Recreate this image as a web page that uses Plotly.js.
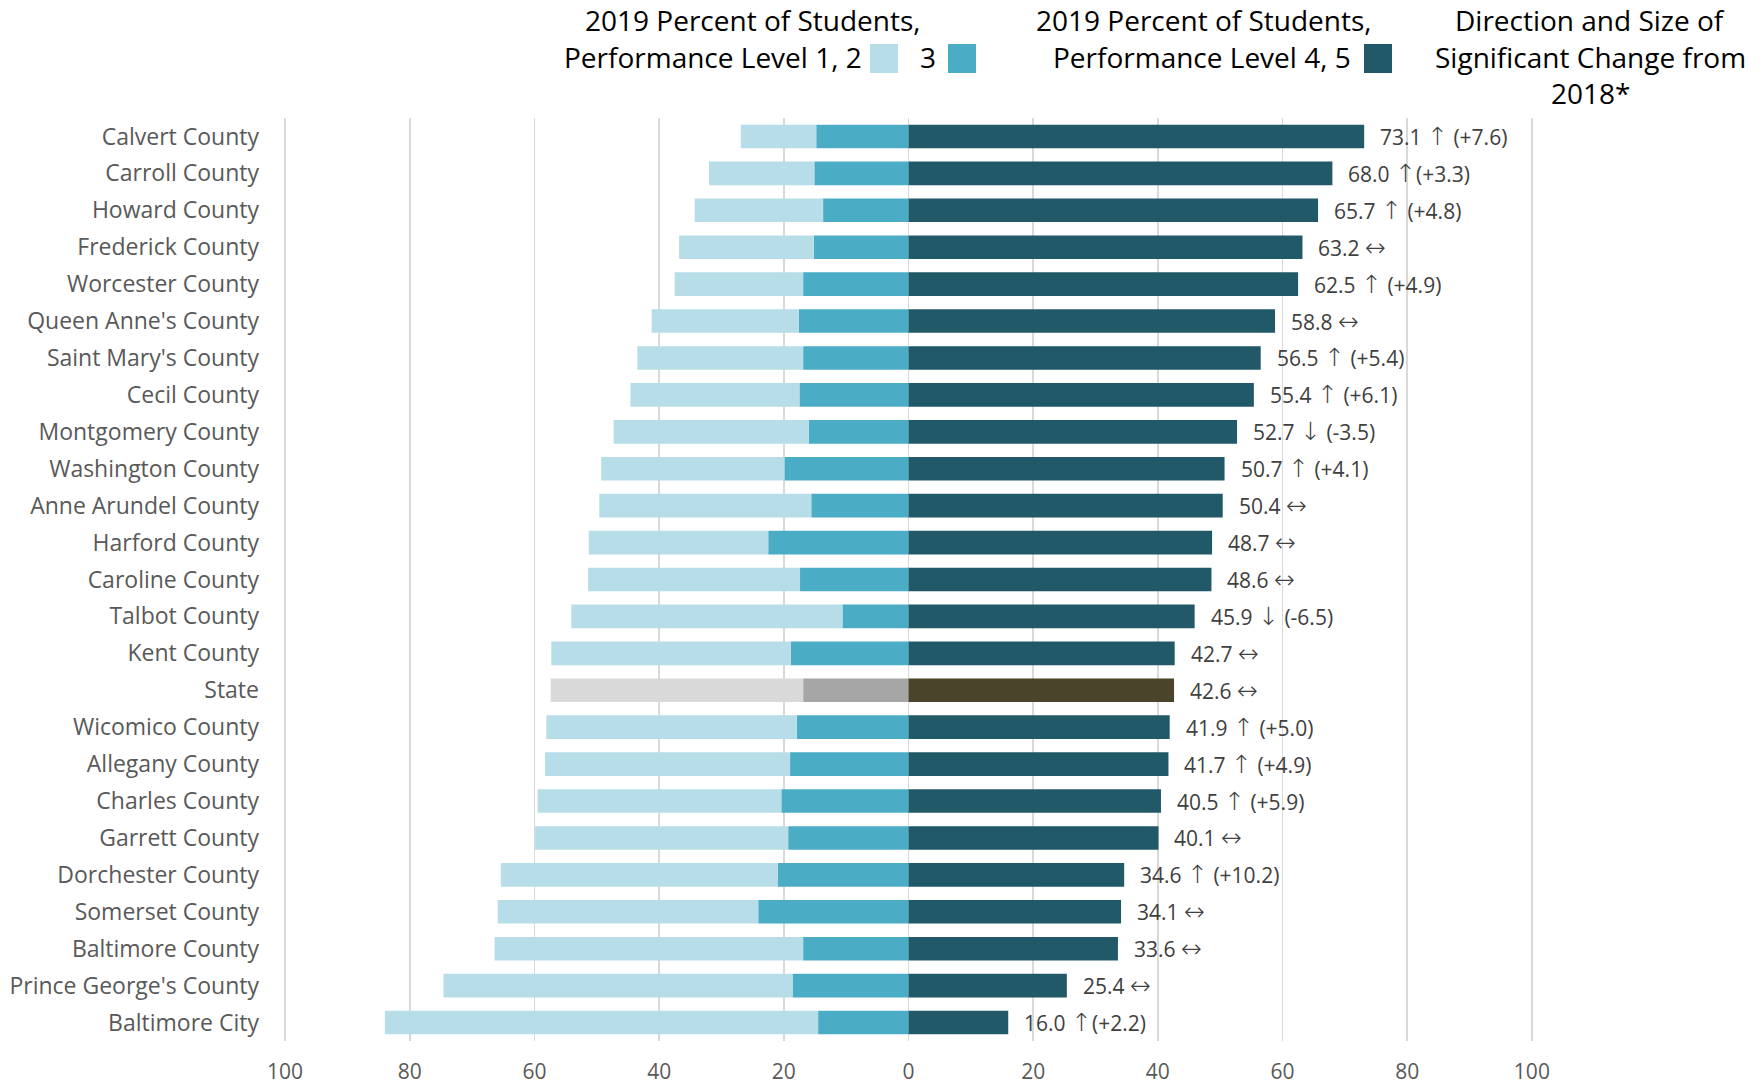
<!DOCTYPE html>
<html>
<head>
<meta charset="utf-8">
<script src="https://cdn.plot.ly/plotly-3.0.1.min.js"></script>
<style>
  html, body { margin: 0; padding: 0; background: #ffffff; }
  #chart { width: 1764px; height: 1085px; }
</style>
</head>
<body>
<div id="chart"></div>
<script>
// Jurisdictions, top to bottom
const categories = [
  "Calvert County", "Carroll County", "Howard County", "Frederick County",
  "Worcester County", "Queen Anne's County", "Saint Mary's County", "Cecil County",
  "Montgomery County", "Washington County", "Anne Arundel County", "Harford County",
  "Caroline County", "Talbot County", "Kent County", "State", "Wicomico County",
  "Allegany County", "Charles County", "Garrett County", "Dorchester County",
  "Somerset County", "Baltimore County", "Prince George's County", "Baltimore City"
];

// 2019 percent of students at performance levels 4 and 5
const level45 = [73.1, 68.0, 65.7, 63.2, 62.5, 58.8, 56.5, 55.4, 52.7, 50.7, 50.4, 48.7,
                 48.6, 45.9, 42.7, 42.6, 41.9, 41.7, 40.5, 40.1, 34.6, 34.1, 33.6, 25.4, 16.0];

// 2019 percent of students at performance level 3
const level3 = [14.8, 15.1, 13.7, 15.2, 16.9, 17.6, 16.9, 17.5, 16.0, 19.9, 15.6, 22.5,
                17.4, 10.6, 18.9, 16.9, 17.9, 19.0, 20.4, 19.3, 21.0, 24.1, 16.9, 18.6, 14.5];

// 2019 percent of students at performance levels 1 and 2
const level12 = [12.1, 16.9, 20.6, 21.6, 20.6, 23.6, 26.6, 27.1, 31.3, 29.4, 34.0, 28.8,
                 34.0, 43.5, 38.4, 40.5, 40.2, 39.3, 39.1, 40.6, 44.4, 41.8, 49.5, 56.0, 69.5];

// Direction and size of significant change from 2018
const changeText = ["↑ (+7.6)", "↑(+3.3)", "↑ (+4.8)", "↔", "↑ (+4.9)", "↔", "↑ (+5.4)",
                    "↑ (+6.1)", "↓ (-3.5)", "↑ (+4.1)", "↔", "↔", "↔", "↓ (-6.5)", "↔",
                    "↔", "↑ (+5.0)", "↑ (+4.9)", "↑ (+5.9)", "↔", "↑ (+10.2)", "↔", "↔",
                    "↔", "↑(+2.2)"];

// Axis ticks (left half is drawn as negative values, labelled as positive)
const tickValues = [-100, -80, -60, -40, -20, 0, 20, 40, 60, 80, 100];
const tickLabels = ["100", "80", "60", "40", "20", "0", "20", "40", "60", "80", "100"];

const COLORS = {
  lvl12: "#b7dde8", lvl3: "#4bacc6", lvl45: "#215968",
  state12: "#d9d9d9", state3: "#a6a6a6", state45: "#4a452a"
};
const FONT = "'Open Sans', 'Noto Sans', 'DejaVu Sans', sans-serif";

const isState = categories.map(c => c === "State");
const colorFor = (base, st) => isState.map(s => (s ? COLORS[st] : COLORS[base]));

const W = 1764, H = 1085;
const M = { l: 282, r: 229, t: 118, b: 44 };
const X_RANGE = [-100.5, 100.5];
const plotW = W - M.l - M.r, plotH = H - M.t - M.b;
// pixel position -> paper coordinate, for header pieces
const px = x => (x - M.l) / plotW;
const py = y => (H - M.b - y) / plotH;

const traces = [
  {
    type: "bar", orientation: "h", name: "3",
    y: categories, x: level3.map(v => -v),
    marker: { color: colorFor("lvl3", "state3") },
    hoverinfo: "skip"
  },
  {
    type: "bar", orientation: "h", name: "1, 2",
    y: categories, x: level12.map(v => -v),
    marker: { color: colorFor("lvl12", "state12") },
    hoverinfo: "skip"
  },
  {
    type: "bar", orientation: "h", name: "4, 5",
    y: categories, x: level45,
    marker: { color: colorFor("lvl45", "state45") },
    hoverinfo: "skip"
  }
];

// Arrow glyphs: thin DejaVu arrows, a little larger than the numbers
const arrowSpan = s => s.replace(/[↑↓↔]/g,
  g => "<span style=\"font-family:'DejaVu Sans';font-weight:200;font-size:25px\">" + g + "</span>");

const annotations = categories.map((c, i) => ({
  x: level45[i], y: c, xref: "x", yref: "y",
  xanchor: "left", yanchor: "middle", xshift: 14,
  text: level45[i].toFixed(1) + " " + arrowSpan(changeText[i]),
  showarrow: false,
  font: { family: FONT, size: 21, color: "#404040" }
}));

const headFont = { family: FONT, size: 28, color: "#000000" };
const head = (text, x, y, anchor) => ({
  text, x: px(x), y: py(y), xref: "paper", yref: "paper",
  xanchor: anchor, yanchor: "middle", showarrow: false, font: headFont
});
annotations.push(
  head("2019 Percent of Students,", 753, 20, "center"),
  head("Performance Level 1, 2", 864, 57, "right"),
  head("3", 938, 57, "right"),
  head("2019 Percent of Students,", 1204, 20, "center"),
  head("Performance Level 4, 5", 1353, 57, "right"),
  head("Direction and Size of", 1590, 20, "center"),
  head("Significant Change from", 1590, 57, "center"),
  head("2018*", 1590, 93, "center")
);

const swatch = (x0, x1, color) => ({
  type: "rect", xref: "paper", yref: "paper",
  x0: px(x0), x1: px(x1), y0: py(73), y1: py(44),
  fillcolor: color, line: { width: 0 }
});
const shapes = [
  swatch(870, 898, COLORS.lvl12),
  swatch(948, 976, COLORS.lvl3),
  swatch(1364, 1392, COLORS.lvl45)
];

const layout = {
  width: W, height: H,
  margin: M,
  paper_bgcolor: "#ffffff", plot_bgcolor: "#ffffff",
  barmode: "relative",
  bargap: 0.36,
  showlegend: false,
  font: { family: FONT, color: "#595959" },
  xaxis: {
    range: X_RANGE,
    tickvals: tickValues, ticktext: tickLabels,
    showgrid: true, gridcolor: "#d9d9d9", gridwidth: 1.5,
    zeroline: true, zerolinecolor: "#d9d9d9", zerolinewidth: 1.5,
    showline: false, ticks: "",
    ticklabelstandoff: 16,
    tickfont: { family: FONT, size: 21, color: "#595959" },
    fixedrange: true
  },
  yaxis: {
    type: "category",
    categoryorder: "array", categoryarray: categories,
    autorange: "reversed",
    showgrid: false, zeroline: false, showline: false, ticks: "",
    ticklabelstandoff: 22,
    tickfont: { family: FONT, size: 23, color: "#595959" },
    fixedrange: true
  },
  annotations, shapes
};

Plotly.newPlot("chart", traces, layout, { displayModeBar: false, staticPlot: true });
</script>
</body>
</html>
